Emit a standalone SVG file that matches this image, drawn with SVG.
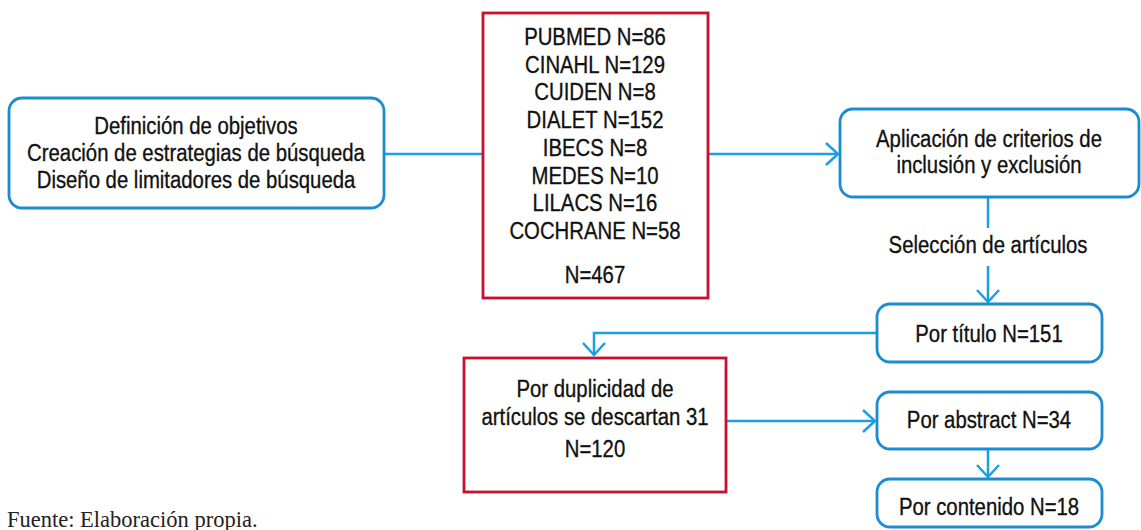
<svg xmlns="http://www.w3.org/2000/svg" width="1141" height="530" viewBox="0 0 1141 530">
<style>
  .blue { fill: #ffffff; stroke: #1a8ccf; stroke-width: 2.8; }
  .red { fill: #ffffff; stroke: #c8102e; stroke-width: 2.8; }
  .t { font-family: "Liberation Sans", Arial, sans-serif; font-size: 24.5px; fill: #111111; stroke: #111111; stroke-width: 0.35; text-anchor: middle; }
  .conn { fill: none; stroke: #1a9fe0; stroke-width: 2.5; }
  .foot { font-family: "Liberation Serif", "Times New Roman", serif; font-size: 22.5px; fill: #222222; }
</style>
<defs>
  <marker id="arr" markerUnits="userSpaceOnUse" markerWidth="16" markerHeight="26" refX="13" refY="12" orient="auto" viewBox="0 0 16 24">
    <path d="M1,1 L13,12 L1,23" fill="none" stroke="#1a9fe0" stroke-width="2.5"/>
  </marker>
</defs>
<rect width="1141" height="530" fill="#ffffff"/>
<g id="connectors">
  <path class="conn" d="M384,154 H483"/>
  <path class="conn" d="M708,154 H838" marker-end="url(#arr)"/>
  <path class="conn" d="M988,197 V228"/>
  <path class="conn" d="M988,266 V302" marker-end="url(#arr)"/>
  <path class="conn" d="M877,333 H594 V355" marker-end="url(#arr)"/>
  <path class="conn" d="M726,421 H875" marker-end="url(#arr)"/>
  <path class="conn" d="M988,449 V477" marker-end="url(#arr)"/>
</g>
<g id="node-objetivos">
  <rect class="blue" x="9" y="98" width="375" height="110" rx="13"/>
  <g transform="translate(196,0) scale(0.83,1)">
    <text class="t" x="0" y="134">Definición de objetivos</text>
    <text class="t" x="0" y="161">Creación de estrategias de búsqueda</text>
    <text class="t" x="0" y="188">Diseño de limitadores de búsqueda</text>
  </g>
</g>
<g id="node-bases">
  <rect class="red" x="483" y="13" width="225" height="285"/>
  <g transform="translate(595,0) scale(0.83,1)">
    <text class="t" x="0" y="45">PUBMED N=86</text>
    <text class="t" x="0" y="73">CINAHL N=129</text>
    <text class="t" x="0" y="100">CUIDEN N=8</text>
    <text class="t" x="0" y="128">DIALET N=152</text>
    <text class="t" x="0" y="156">IBECS N=8</text>
    <text class="t" x="0" y="184">MEDES N=10</text>
    <text class="t" x="0" y="211">LILACS N=16</text>
    <text class="t" x="0" y="239">COCHRANE N=58</text>
    <text class="t" x="0" y="283">N=467</text>
  </g>
</g>
<g id="node-criterios">
  <rect class="blue" x="840" y="109" width="299" height="88" rx="13"/>
  <g transform="translate(989,0) scale(0.83,1)">
    <text class="t" x="0" y="147">Aplicación de criterios de</text>
    <text class="t" x="0" y="173">inclusión y exclusión</text>
  </g>
</g>
<g id="label-seleccion">
  <g transform="translate(988,0) scale(0.83,1)">
    <text class="t" x="0" y="253">Selección de artículos</text>
  </g>
</g>
<g id="node-titulo">
  <rect class="blue" x="877" y="304" width="225" height="58" rx="13"/>
  <g transform="translate(989,0) scale(0.83,1)">
    <text class="t" x="0" y="342">Por título N=151</text>
  </g>
</g>
<g id="node-duplicidad">
  <rect class="red" x="464" y="358" width="262" height="134"/>
  <g transform="translate(595,0) scale(0.83,1)">
    <text class="t" x="0" y="397">Por duplicidad de</text>
    <text class="t" x="0" y="425">artículos se descartan 31</text>
    <text class="t" x="0" y="457">N=120</text>
  </g>
</g>
<g id="node-abstract">
  <rect class="blue" x="877" y="392" width="225" height="57" rx="13"/>
  <g transform="translate(989,0) scale(0.83,1)">
    <text class="t" x="0" y="428">Por abstract N=34</text>
  </g>
</g>
<g id="node-contenido">
  <rect class="blue" x="877" y="479" width="225" height="48" rx="13"/>
  <g transform="translate(989,0) scale(0.83,1)">
    <text class="t" x="0" y="515">Por contenido N=18</text>
  </g>
</g>
<text class="foot" x="7" y="527">Fuente: Elaboración propia.</text>
</svg>
